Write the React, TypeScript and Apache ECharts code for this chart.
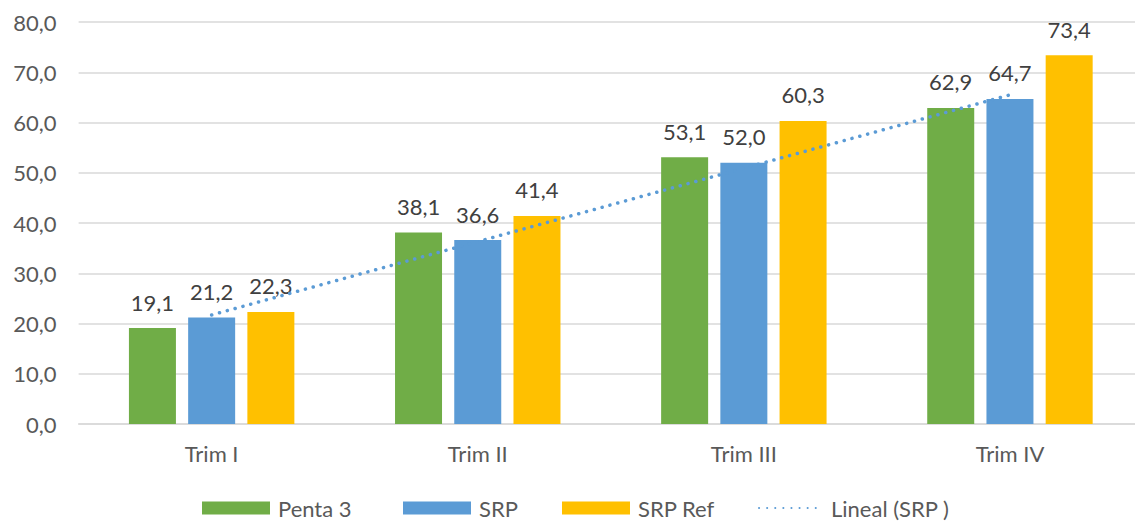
import React, { useEffect, useRef } from "react";
import * as echarts from "echarts";

const categories = ["Trim I", "Trim II", "Trim III", "Trim IV"];
const penta3 = [19.1, 38.1, 53.1, 62.9];
const srp = [21.2, 36.6, 52.0, 64.7];
const srpRef = [22.3, 41.4, 60.3, 73.4];
const trendSrp = [21.7, 36.3, 50.9, 65.5];
const seriesNames = ["Penta 3", "SRP", "SRP Ref", "Lineal (SRP )"];

const FONT = "Lato, 'Open Sans', sans-serif";
const fmt = (v: number) => v.toFixed(1).replace(".", ",");

export default function App() {
  const ref = useRef<HTMLDivElement>(null);
  useEffect(() => {
    if (!ref.current) return;
    const chart = echarts.init(ref.current, undefined, { renderer: "svg" });
    const barLabel = {
      show: true,
      position: "top" as const,
      distance: 15,
      fontFamily: FONT,
      fontSize: 22,
      color: "#404040",
      formatter: (p: any) => fmt(p.value),
    };
    const legendLefts = [202, 403, 562, 758];
    const legends = seriesNames.map((name, i) => ({
      left: legendLefts[i],
      top: 497,
      padding: 0,
      itemWidth: i === 3 ? 64 : 68,
      itemHeight: 13,
      textStyle: { fontFamily: FONT, fontSize: 22, color: "#595959", padding: [0, 0, 0, 3] },
      data: [i === 3 ? { name, itemStyle: { opacity: 0 } } : { name, icon: "rect" }],
    }));
    chart.setOption({
      animation: false,
      backgroundColor: "#ffffff",
      textStyle: { fontFamily: FONT },
      grid: { left: 78.6, right: 0, top: 22, bottom: 100, containLabel: false },
      legend: legends,
      xAxis: {
        type: "category",
        data: categories,
        axisTick: { show: false },
        axisLine: { show: true, lineStyle: { color: "#D9D9D9", width: 1.5 } },
        axisLabel: { fontFamily: FONT, fontSize: 22, color: "#595959", margin: 18 },
      },
      yAxis: {
        type: "value",
        min: 0,
        max: 80,
        interval: 10,
        axisLine: { show: false },
        axisTick: { show: false },
        splitLine: { lineStyle: { color: "#D9D9D9", width: 1.5 } },
        axisLabel: {
          fontFamily: FONT,
          fontSize: 22,
          color: "#595959",
          margin: 22,
          formatter: (v: number) => fmt(v),
        },
      },
      series: [
        {
          name: seriesNames[0],
          type: "bar",
          data: penta3,
          barWidth: 47,
          barGap: "26%",
          itemStyle: { color: "#70AD47" },
          label: barLabel,
        },
        {
          name: seriesNames[1],
          type: "bar",
          data: srp,
          barWidth: 47,
          barGap: "26%",
          itemStyle: { color: "#5B9BD5" },
          label: barLabel,
        },
        {
          name: seriesNames[2],
          type: "bar",
          data: srpRef,
          barWidth: 47,
          barGap: "26%",
          itemStyle: { color: "#FFC000" },
          label: barLabel,
        },
        {
          name: seriesNames[3],
          type: "line",
          data: trendSrp,
          symbol: "none",
          showSymbol: false,
          z: 5,
          lineStyle: { color: "#5B9BD5", width: 3.5, type: [0.1, 8], cap: "round" },
          itemStyle: { color: "#5B9BD5" },
        },
      ],
    });
    return () => chart.dispose();
  }, []);
  return (
    <div style={{ position: "fixed", left: 0, top: 0, width: 1135, height: 524, overflow: "hidden", background: "#fff" }}>
      <div ref={ref} style={{ width: 1143, height: 524 }} />
    </div>
  );
}
